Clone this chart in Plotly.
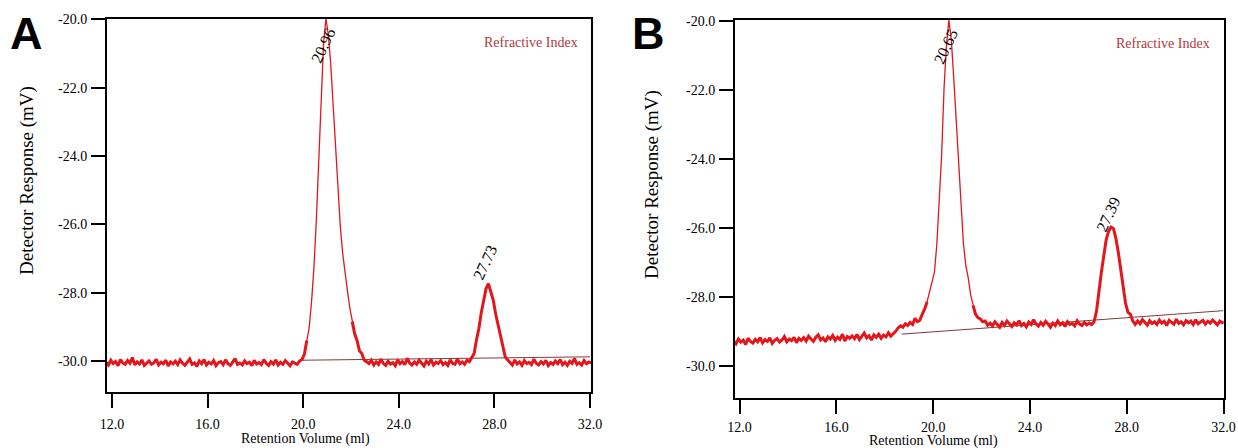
import plotly.graph_objects as go

# ---------------- data ----------------
VOL_START = 11.75
VOL_STEP = 0.1
N_POINTS = 204
volume_ml = [round(VOL_START + VOL_STEP * i, 2) for i in range(N_POINTS)]

# Panel A detector response (mV)
signal_a = [
    -30.04, -30.12, -29.98, -30.08, -30.02, -30.14, -29.96, -30.06, -30.10, -29.99,
    -30.07, -29.90, -30.11, -30.03, -30.09, -29.97, -30.13, -30.05, -30.00, -30.10,
    -30.06, -29.95, -30.12, -30.04, -30.08, -29.98, -30.15, -30.03, -30.09, -30.01,
    -30.11, -29.97, -30.07, -30.13, -30.02, -29.94, -30.10, -30.06, -30.16, -30.00,
    -30.08, -29.96, -30.12, -30.04, -30.09, -29.99, -30.14, -30.05, -30.02, -30.11,
    -29.97, -30.08, -30.13, -30.03, -29.93, -30.10, -30.06, -30.12, -30.00, -30.08,
    -30.04, -30.14, -29.98, -30.09, -30.05, -30.11, -29.96, -30.07, -30.13, -30.02,
    -30.09, -29.97, -30.12, -30.04, -30.10, -29.99, -30.08, -30.14, -30.03, -30.06,
    -30.10, -30.00, -29.96,
    -29.80, -29.40, -29.02, -28.25, -27.25, -25.85, -24.05, -22.05, -20.70, -19.98,
    -20.45, -21.30, -22.50, -23.90, -25.05, -26.05, -26.85, -27.45, -27.95, -28.45,
    -28.85, -29.20, -29.40, -29.70, -29.78, -29.98, -30.02,
    -30.08, -29.98, -30.12, -30.03, -30.10, -29.95, -30.07, -30.13, -30.01, -30.09,
    -30.05, -30.14, -29.97, -30.08, -30.02, -30.11, -29.92, -30.06, -30.12, -30.03,
    -30.10, -29.98, -30.07, -30.15, -30.01, -30.09, -29.96, -30.12, -30.04, -30.08,
    -29.99, -30.11, -30.05, -30.13, -29.97, -30.07, -30.10, -29.94, -30.08, -30.03,
    -30.10, -29.98, -30.02,
    -29.90, -29.78, -29.38, -29.05, -28.58, -28.22, -27.88, -27.74, -27.97, -28.22,
    -28.62, -28.93, -29.32, -29.58, -29.88, -29.97,
    -30.06, -30.12, -29.97, -30.09, -30.03, -30.13, -29.99, -30.08, -30.04, -30.11,
    -29.95, -30.07, -30.12, -30.02, -30.09, -29.98, -30.14, -30.05, -30.10, -30.00,
    -30.08, -29.96, -30.11, -30.04, -30.13, -30.01, -30.07, -29.93, -30.10, -30.05,
    -30.12, -29.99, -30.08, -30.03, -30.06,
]

# Panel B detector response (mV)
signal_b = [
    -29.28, -29.36, -29.22, -29.31, -29.25, -29.38, -29.20, -29.29, -29.34, -29.23,
    -29.30, -29.18, -29.33, -29.24, -29.29, -29.19, -29.35, -29.26, -29.21, -29.31,
    -29.25, -29.15, -29.30, -29.22, -29.27, -29.17, -29.33, -29.20, -29.26, -29.18,
    -29.28, -29.14, -29.22, -29.29, -29.17, -29.10, -29.25, -29.19, -29.30, -29.16,
    -29.22, -29.12, -29.26, -29.17, -29.23, -29.08, -29.28, -29.15, -29.20, -29.13,
    -29.21, -29.09, -29.24, -29.14, -29.05, -29.19, -29.13, -29.25, -29.10, -29.17,
    -29.08, -29.20, -29.11, -29.16, -29.04, -29.14, -29.08,
    -29.00, -28.90, -28.84, -28.88, -28.78, -28.83, -28.74, -28.80, -28.62, -28.72,
    -28.68, -28.50, -28.35, -28.14, -27.86, -27.60, -27.30, -26.50, -25.30, -23.90,
    -21.95, -20.70, -19.98, -20.55, -21.65, -22.90, -24.20, -25.45, -26.45, -27.10,
    -27.45, -27.95, -28.25, -28.50, -28.60, -28.64, -28.72, -28.70, -28.82, -28.76,
    -28.84, -28.72, -28.80, -28.88, -28.74, -28.82, -28.70, -28.79, -28.86, -28.75,
    -28.81, -28.69, -28.83, -28.77, -28.87, -28.73, -28.80, -28.66, -28.78, -28.85,
    -28.74, -28.82, -28.71, -28.79, -28.88, -28.76, -28.83, -28.70, -28.81, -28.75,
    -28.86, -28.72, -28.80, -28.77, -28.84, -28.69, -28.79, -28.83, -28.74, -28.81,
    -28.76, -28.80,
    -28.72, -28.42, -27.82, -27.30, -26.82, -26.35, -26.10, -25.98, -26.02, -26.30,
    -26.70, -27.18, -27.70, -28.18, -28.45, -28.50, -28.70, -28.80,
    -28.70, -28.78, -28.66, -28.75, -28.82, -28.69, -28.77, -28.72, -28.80, -28.67,
    -28.76, -28.71, -28.83, -28.68, -28.74, -28.79, -28.65, -28.77, -28.72, -28.81,
    -28.69, -28.75, -28.70, -28.80, -28.66, -28.78, -28.73, -28.68, -28.79, -28.71,
    -28.76, -28.67, -28.74, -28.81, -28.70, -28.75, -28.72,
]

# integration baselines (start/end volume, response)
baseline_a_vol = [19.95, 32.0]
baseline_a_resp = [-29.98, -29.88]
baseline_b_vol = [18.7, 32.0]
baseline_b_resp = [-29.08, -28.40]

# labelled peaks
peak_vol_a = [20.96, 27.73]
peak_top_a = [-20.0, -27.76]
peak_vol_b = [20.65, 27.39]
peak_top_b = [-20.0, -25.98]

x_ticks = [12, 16, 20, 24, 28, 32]
x_ticktext = ["12.0", "16.0", "20.0", "24.0", "28.0", "32.0"]
y_ticks = [-20, -22, -24, -26, -28, -30]
y_ticktext = ["-20.0", "-22.0", "-24.0", "-26.0", "-28.0", "-30.0"]

# ---------------- figure ----------------
W, H = 1238, 448
RED = "#e3161c"
BASE_COL = "#7a3c3c"
SERIF = "Liberation Serif, Times New Roman, serif"

# steep part of the main peak is drawn as a thin line, the noisy rest as a thick band
THIN_SPAN_A = (20.2, 22.0)
THIN_SPAN_B = (19.8, 21.6)


def noisy_part(vols, sig, span):
    return [None if span[0] < v < span[1] else s for v, s in zip(vols, sig)]


fig = go.Figure()
for vol_b, resp_b, sig, span, xa, ya in (
        (baseline_a_vol, baseline_a_resp, signal_a, THIN_SPAN_A, "x", "y"),
        (baseline_b_vol, baseline_b_resp, signal_b, THIN_SPAN_B, "x2", "y2")):
    fig.add_trace(go.Scatter(x=vol_b, y=resp_b, mode="lines",
                             line=dict(color=BASE_COL, width=1), xaxis=xa, yaxis=ya,
                             showlegend=False, hoverinfo="skip"))
    fig.add_trace(go.Scatter(x=volume_ml, y=sig, mode="lines",
                             line=dict(color=RED, width=1.3), xaxis=xa, yaxis=ya,
                             showlegend=False))
    fig.add_trace(go.Scatter(x=volume_ml, y=noisy_part(volume_ml, sig, span), mode="lines",
                             line=dict(color=RED, width=3), connectgaps=False,
                             xaxis=xa, yaxis=ya, showlegend=False, hoverinfo="skip"))


def px(x):
    return x / W


def py(y):
    return 1 - y / H


axis_common = dict(showline=True, mirror=True, linecolor="black", linewidth=2,
                   ticks="outside", ticklen=14, tickwidth=2, tickcolor="black",
                   showgrid=False, zeroline=False, automargin=False,
                   tickfont=dict(family=SERIF, size=14, color="black"))

fig.update_layout(
    width=W, height=H, margin=dict(l=0, r=0, t=0, b=0, autoexpand=False),
    paper_bgcolor="white", plot_bgcolor="white", showlegend=False,
    xaxis=dict(domain=[px(107), px(591)], range=[11.79, 32.04], anchor="y",
               tickvals=x_ticks, ticktext=x_ticktext, ticklabelstandoff=4, **axis_common),
    yaxis=dict(domain=[py(392), py(19)], range=[-30.91, -19.99], anchor="x",
               tickvals=y_ticks, ticktext=y_ticktext, ticklabelstandoff=1, **axis_common),
    xaxis2=dict(domain=[px(735), px(1223.5)], range=[11.81, 32.0], anchor="y2",
                tickvals=x_ticks, ticktext=x_ticktext, ticklabelstandoff=1, **axis_common),
    yaxis2=dict(domain=[py(398), py(20)], range=[-30.93, -19.98], anchor="x2",
                tickvals=y_ticks, ticktext=y_ticktext, ticklabelstandoff=1, **axis_common),
)

ann = []
# panel letters
for letter, cx in (("A", 26), ("B", 648)):
    ann.append(dict(text=letter, x=px(cx), y=py(34), xref="paper", yref="paper",
                    showarrow=False, xanchor="center", yanchor="middle",
                    font=dict(family="Liberation Sans, Arial, sans-serif", size=45,
                              color="black", weight="bold")))
# legend-like labels
for cx, cy in ((531, 42), (1163, 43)):
    ann.append(dict(text="Refractive Index", x=px(cx), y=py(cy), xref="paper", yref="paper",
                    showarrow=False, xanchor="center", yanchor="middle",
                    font=dict(family=SERIF, size=14, color="#b03a3e")))
# axis titles
for cx, cy in ((27, 181), (652, 185)):
    ann.append(dict(text="Detector Response (mV)", x=px(cx), y=py(cy), xref="paper",
                    yref="paper", showarrow=False, textangle=-90,
                    xanchor="center", yanchor="middle",
                    font=dict(family=SERIF, size=19, color="black")))
for cx, cy in ((305, 439), (934, 441)):
    ann.append(dict(text="Retention Volume (ml)", x=px(cx), y=py(cy), xref="paper",
                    yref="paper", showarrow=False, xanchor="center", yanchor="middle",
                    font=dict(family=SERIF, size=14, color="black")))
# peak labels
shifts_a = [(-3, -26), (-3, 22)]
shifts_b = [(-3, -26), (-4, 13)]
for vols, tops, shifts, xr, yr in ((peak_vol_a, peak_top_a, shifts_a, "x", "y"),
                                   (peak_vol_b, peak_top_b, shifts_b, "x2", "y2")):
    for v, t, (dx, dy) in zip(vols, tops, shifts):
        ann.append(dict(text=f"{v:.2f}", x=v, y=t, xref=xr, yref=yr, showarrow=False,
                        xshift=dx, yshift=dy, textangle=-65,
                        xanchor="center", yanchor="middle",
                        font=dict(family=SERIF, size=16, color="black")))

fig.update_layout(annotations=ann)
fig.write_html("out.html",
               config={"displayModeBar": False},
               post_script="document.body.style.margin='0px';"
                           "document.body.style.overflow='hidden';")
